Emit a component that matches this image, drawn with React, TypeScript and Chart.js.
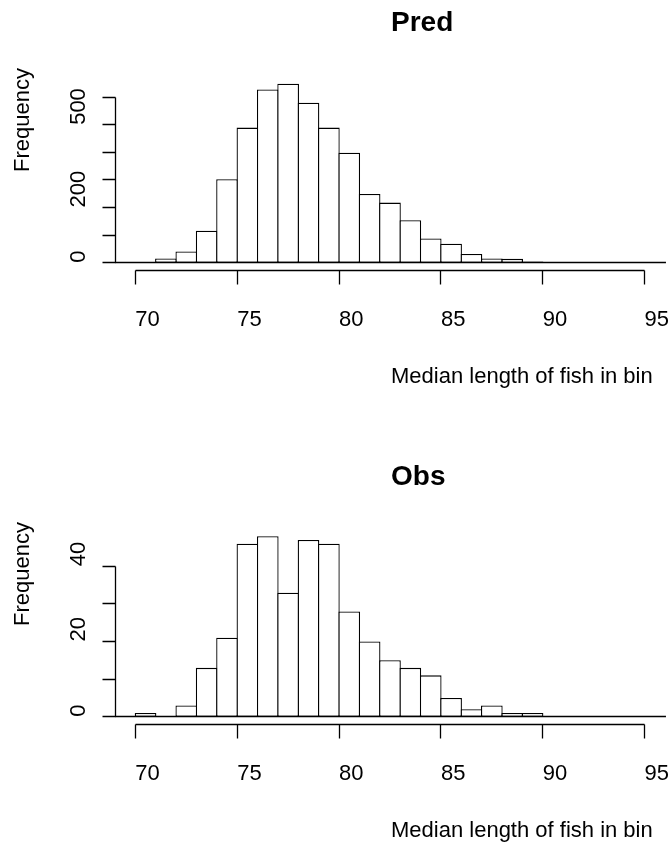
import React, { useEffect, useRef } from "react";
import { Chart, registerables } from "chart.js";
Chart.register(...registerables);

// ---- data ----
const breaks = [69, 70, 71, 72, 73, 74, 75, 76, 77, 78, 79, 80, 81, 82, 83, 84, 85, 86, 87, 88, 89, 90, 91, 92, 93, 94, 95, 96];
const predCounts = [0, 1, 15, 41, 116, 303, 490, 628, 649, 580, 490, 399, 249, 218, 154, 88, 69, 32, 15, 14, 4, 2, 1, 1, 0, 1, 0];
const obsCounts = [0, 1, 0, 3, 13, 21, 46, 48, 33, 47, 46, 28, 20, 15, 13, 11, 5, 2, 3, 1, 1, 0, 0, 0, 0, 0, 0];
const xTicks = [70, 75, 80, 85, 90, 95];
const predYTicks = [0, 100, 200, 300, 400, 500, 600];
const predYLabelValues = [0, 200, 500];
const obsYTicks = [0, 10, 20, 30, 40];
const obsYLabelValues = [0, 20, 40];
const xTitle = "Median length of fish in bin";
const yTitle = "Frequency";

const W = 671;
const H = 389;
const FONT = "'Liberation Sans', Arial, Helvetica, sans-serif";
const LW = 1.3;

type PanelProps = {
  title: string;
  counts: number[];
  yTicks: number[];
  yLabelValues: number[];
  yMax: number;
};

function Panel({ title, counts, yTicks, yLabelValues, yMax }: PanelProps) {
  const ref = useRef<HTMLCanvasElement | null>(null);
  useEffect(() => {
    if (!ref.current) return;
    const axesPlugin = {
      id: "rAxes",
      afterDraw(chart: any) {
        const { ctx, chartArea } = chart;
        const xs = chart.scales.x;
        const ys = chart.scales.y;
        const snap = (v: number) => Math.round(v - 0.5) + 0.5;
        ctx.save();
        ctx.strokeStyle = "#000";
        ctx.fillStyle = "#000";
        ctx.lineWidth = LW;
        const y0 = ys.getPixelForValue(0);
        // baseline of histogram
        ctx.beginPath();
        ctx.moveTo(xs.getPixelForValue(breaks[0]), snap(y0));
        ctx.lineTo(xs.getPixelForValue(breaks[breaks.length - 1]) + 1, snap(y0));
        ctx.stroke();
        // y axis
        const ax = snap(chartArea.left);
        ctx.beginPath();
        ctx.moveTo(ax, snap(ys.getPixelForValue(yTicks[0])));
        ctx.lineTo(ax, snap(ys.getPixelForValue(yTicks[yTicks.length - 1])));
        for (const t of yTicks) {
          const py = snap(ys.getPixelForValue(t));
          ctx.moveTo(ax, py);
          ctx.lineTo(ax - 13, py);
        }
        ctx.stroke();
        ctx.font = `22px ${FONT}`;
        ctx.textAlign = "left";
        ctx.textBaseline = "alphabetic";
        for (const v of yLabelValues) {
          const py = ys.getPixelForValue(v);
          ctx.save();
          ctx.translate(85, py);
          ctx.rotate(-Math.PI / 2);
          ctx.fillText(String(v), 0, 0);
          ctx.restore();
        }
        // x axis
        const axY = snap(y0 + 8);
        ctx.beginPath();
        ctx.moveTo(snap(xs.getPixelForValue(xTicks[0])), axY);
        ctx.lineTo(snap(xs.getPixelForValue(xTicks[xTicks.length - 1])), axY);
        for (const t of xTicks) {
          const px = snap(xs.getPixelForValue(t));
          ctx.moveTo(px, axY);
          ctx.lineTo(px, axY + 14);
        }
        ctx.stroke();
        for (const t of xTicks) {
          ctx.fillText(String(t), xs.getPixelForValue(t), y0 + 63.5);
        }
        // axis titles
        const cx = (chartArea.left + chartArea.right) / 2;
        ctx.fillText(xTitle, cx, y0 + 120);
        ctx.save();
        ctx.translate(29, 172);
        ctx.rotate(-Math.PI / 2);
        ctx.fillText(yTitle, 0, 0);
        ctx.restore();
        // main title
        ctx.font = `bold 28px ${FONT}`;
        ctx.fillText(title, cx, 31);
        ctx.restore();
      },
    };
    const chart = new Chart(ref.current, {
      type: "bar",
      data: {
        datasets: [
          {
            data: counts.map((c, i) => ({ x: (breaks[i] + breaks[i + 1]) / 2, y: c })),
            backgroundColor: "#ffffff",
            borderColor: "#000000",
            borderWidth: LW,
            borderSkipped: false,
            barPercentage: 1.064,
            categoryPercentage: 1,
            grouped: false,
            inflateAmount: 0,
          } as any,
        ],
      },
      options: {
        responsive: false,
        maintainAspectRatio: false,
        animation: false,
        events: [],
        layout: { padding: { left: 115, right: 4, top: 80, bottom: H - 262.7 } },
        scales: {
          x: { type: "linear", min: 69, max: 96.1, display: false, offset: false },
          y: { min: 0, max: yMax, display: false },
        },
        plugins: { legend: { display: false }, tooltip: { enabled: false } },
      } as any,
      plugins: [axesPlugin],
    });
    return () => chart.destroy();
  }, [title, counts, yTicks, yLabelValues, yMax]);
  return <canvas ref={ref} width={W} height={H} style={{ width: W, height: H, display: "block" }} />;
}

export default function App() {
  return (
    <div style={{ position: "fixed", left: 0, top: 0, width: W, height: 844, background: "#fff", overflow: "hidden" }}>
      <div style={{ position: "absolute", left: 0, top: 0 }}>
        <Panel title="Pred" counts={predCounts} yTicks={predYTicks} yLabelValues={predYLabelValues} yMax={662.7} />
      </div>
      <div style={{ position: "absolute", left: 0, top: 454 }}>
        <Panel title="Obs" counts={obsCounts} yTicks={obsYTicks} yLabelValues={obsYLabelValues} yMax={48.6} />
      </div>
    </div>
  );
}
